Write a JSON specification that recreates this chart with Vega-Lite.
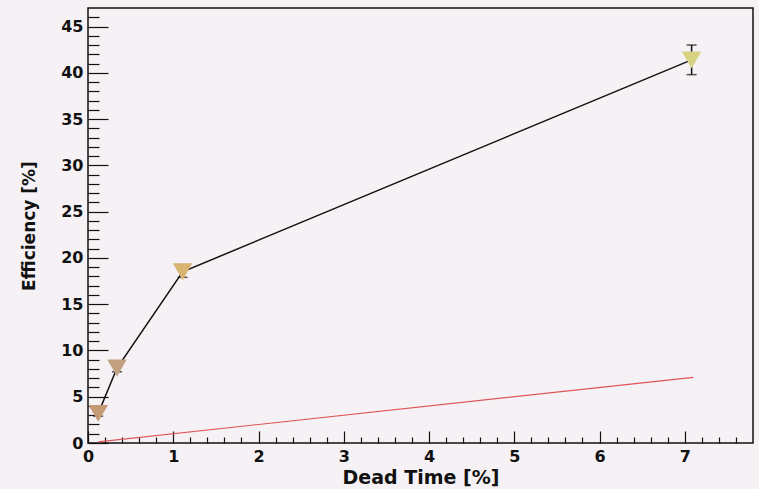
{
  "$schema": "https://vega.github.io/schema/vega-lite/v6.json",
  "width": 665,
  "height": 435,
  "autosize": {"type": "none"},
  "padding": {"left": 88, "top": 8, "right": 6, "bottom": 46},
  "background": "#f5f1f5",
  "config": {
    "view": {"stroke": "#111111", "strokeWidth": 1.5, "fill": "#f5f1f5"},
    "axis": {"labelFont": "DejaVu Sans", "labelFontWeight": "bold", "labelFontSize": 16, "labelColor": "#111111",
             "titleFont": "DejaVu Sans", "titleFontWeight": "bold", "titleColor": "#111111",
             "domain": false, "grid": false, "tickColor": "#111111", "tickWidth": 1.2},
    "axisX": {"titleFontSize": 19, "titlePadding": -2, "labelPadding": 17},
    "axisY": {"titleFontSize": 17, "titlePadding": 22, "labelPadding": 25}
  },
  "datasets": {
    "points": [
      {"dt": 0.12, "eff": 3.2, "err": 0.3, "c": "#c49a74"},
      {"dt": 0.34, "eff": 8.1, "err": 0.4, "c": "#c3a07f"},
      {"dt": 1.11, "eff": 18.5, "err": 0.6, "c": "#d9b372"},
      {"dt": 7.08, "eff": 41.4, "err": 1.6, "c": "#d8d283"}
    ],
    "ref": [
      {"dt": 0.12, "eff": 0.12},
      {"dt": 7.1, "eff": 7.1}
    ]
  },
  "encoding": {
    "x": {"field": "dt", "type": "quantitative", "scale": {"domain": [0, 7.8], "nice": false, "zero": false},
          "axis": {"title": "Dead Time [%]",
                   "values": [0,0.2,0.4,0.6,0.8,1,1.2,1.4,1.6,1.8,2,2.2,2.4,2.6,2.8,3,3.2,3.4,3.6,3.8,4,4.2,4.4,4.6,4.8,5,5.2,5.4,5.6,5.8,6,6.2,6.4,6.6,6.8,7,7.2,7.4,7.6],
                   "labelExpr": "abs(datum.value - round(datum.value)) < 0.001 ? format(datum.value, 'd') : ''",
                   "tickSize": {"condition": {"test": "abs(datum.value - round(datum.value)) < 0.001", "value": -12}, "value": -6},
                   "labelFlush": false, "labelOverlap": false}},
    "y": {"field": "eff", "type": "quantitative", "scale": {"domain": [0, 47], "nice": false, "zero": false},
          "axis": {"title": "Efficiency [%]",
                   "values": [0,1,2,3,4,5,6,7,8,9,10,11,12,13,14,15,16,17,18,19,20,21,22,23,24,25,26,27,28,29,30,31,32,33,34,35,36,37,38,39,40,41,42,43,44,45,46],
                   "labelExpr": "datum.value % 5 === 0 ? format(datum.value, 'd') : ''",
                   "tickSize": {"condition": {"test": "datum.value % 5 === 0", "value": -20}, "value": -11},
                   "labelFlush": false, "labelOverlap": false}}
  },
  "layer": [
    {
      "data": {"name": "ref"},
      "mark": {"type": "line", "color": "#e05555", "strokeWidth": 1.2}
    },
    {
      "data": {"name": "points"},
      "mark": {"type": "line", "color": "#111111", "strokeWidth": 1.5}
    },
    {
      "data": {"name": "points"},
      "mark": {"type": "errorbar", "color": "#111111", "thickness": 1.5, "ticks": {"size": 10, "thickness": 1.5, "color": "#111111"}},
      "encoding": {
        "yError": {"field": "err"}
      }
    },
    {
      "data": {"name": "points"},
      "mark": {"type": "point", "shape": "triangle-down", "filled": true, "opacity": 1, "size": 380},
      "encoding": {
        "color": {"field": "c", "type": "nominal", "scale": null, "legend": null}
      }
    }
  ]
}
